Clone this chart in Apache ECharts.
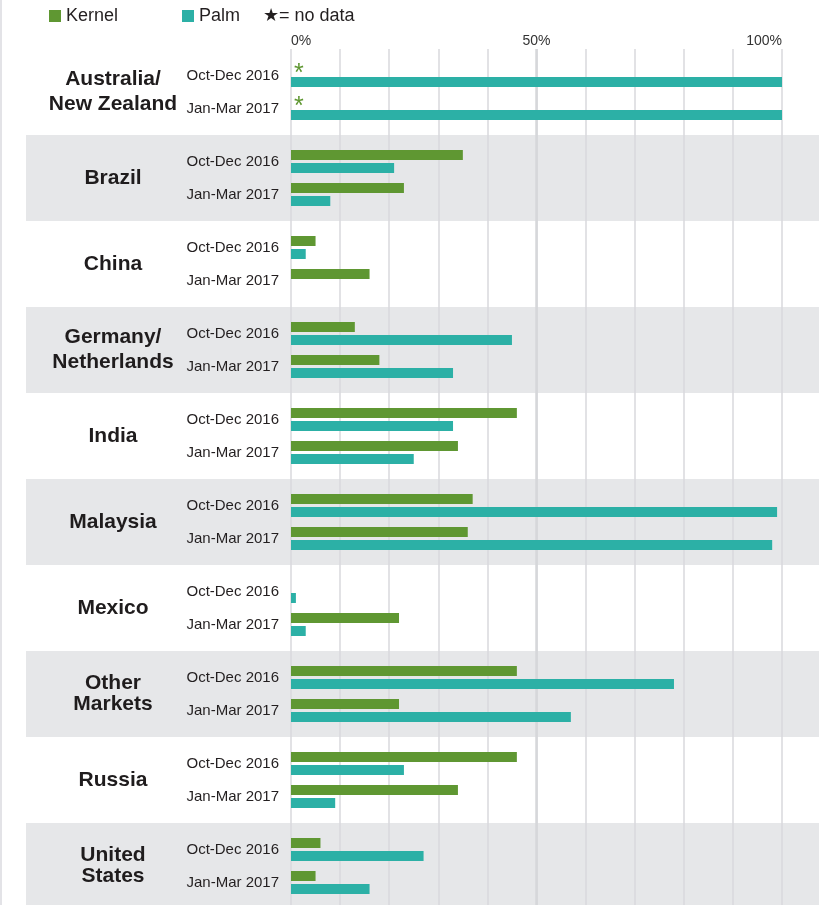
<!DOCTYPE html>
<html>
<head>
<meta charset="utf-8">
<title>Kernel / Palm</title>
<script src="https://cdn.jsdelivr.net/npm/echarts@6/dist/echarts.min.js"></script>
<style>
  html, body { margin: 0; padding: 0; background: #fff; }
  #wrap { position: relative; width: 819px; height: 905px; }
  #myChart { width: 819px; height: 905px; }
  #edge { position: absolute; left: 0; top: 0; width: 2px; height: 905px; background: #e3e3e7; pointer-events: none; }
</style>
</head>
<body>
<div id="wrap">
  <div id="myChart"></div>
  <div id="edge"></div>
</div>
<script>
// categories (top to bottom)
const countries = ['Australia/\nNew Zealand', 'Brazil', 'China', 'Germany/\nNetherlands', 'India',
  'Malaysia', 'Mexico', 'Other\nMarkets', 'Russia', 'United\nStates']
const periods = ['Oct-Dec 2016', 'Jan-Mar 2017']
const xTicks = [0, 50, 100]

// values in %, null = no data (shown as *)
const kernelOct = [null, 35, 5, 13, 46, 37, 0, 46, 46, 6]
const palmOct = [100, 21, 3, 45, 33, 99, 1, 78, 23, 27]
const kernelJan = [null, 23, 16, 18, 34, 36, 22, 22, 34, 5]
const palmJan = [100, 8, 0, 33, 25, 98, 3, 57, 9, 16]

const green = '#5f9732'
const teal = '#2cb0a6'
const font = 'Liberation Sans, Arial, sans-serif'

function kernelData(arr) {
  return arr.map(function(v) {
    if (v === null) {
      return {
        value: 0,
        label: {
          show: true,
          position: 'right',
          distance: 3,
          offset: [0, 5],
          formatter: '*',
          color: green,
          fontSize: 25,
          fontFamily: font
        }
      }
    }
    return v
  })
}

const legendText = { fontSize: 18, color: '#231f20', fontFamily: font }

const myChart = echarts.init(document.getElementById('myChart'))

const option = {
  animation: false,
  textStyle: { fontFamily: font },
  legend: [
    {
      data: ['Kernel'],
      left: 49,
      top: 7,
      padding: 0,
      icon: 'rect',
      itemWidth: 12,
      itemHeight: 12,
      selectedMode: false,
      textStyle: legendText
    },
    {
      data: ['Palm'],
      left: 182,
      top: 7,
      padding: 0,
      icon: 'rect',
      itemWidth: 12,
      itemHeight: 12,
      selectedMode: false,
      textStyle: legendText
    },
    {
      data: [{ name: '★= no data', icon: 'none' }],
      left: 258,
      top: 7,
      padding: 0,
      itemWidth: 0,
      itemHeight: 12,
      selectedMode: false,
      textStyle: legendText
    }
  ],
  grid: [
    // row bands
    { left: 26, right: 0, top: 49, bottom: -4, outerBoundsMode: 'none' },
    // bars
    { left: 291, right: 37, top: 49, bottom: -4, outerBoundsMode: 'none' }
  ],
  xAxis: [
    { gridIndex: 0, type: 'value', show: false, min: 0, max: 100 },
    {
      gridIndex: 1,
      type: 'value',
      position: 'top',
      min: 0,
      max: 100,
      interval: 10,
      axisLine: { show: false },
      axisTick: { show: false },
      splitLine: {
        show: true,
        lineStyle: { color: '#d9d9dc', width: 1.5 }
      },
      axisLabel: {
        margin: 1,
        fontSize: 14,
        color: '#333',
        alignMinLabel: 'left',
        alignMaxLabel: 'right',
        formatter: function(v) {
          return xTicks.indexOf(v) >= 0 ? v + '%' : ''
        }
      }
    }
  ],
  yAxis: [
    {
      gridIndex: 0,
      type: 'category',
      inverse: true,
      data: countries,
      axisLine: { show: false },
      axisTick: { show: false },
      axisLabel: { show: false },
      splitLine: { show: false },
      splitArea: {
        show: true,
        areaStyle: { color: ['#ffffff', '#e6e7e9'] }
      }
    },
    {
      gridIndex: 1,
      type: 'category',
      inverse: true,
      position: 'left',
      data: countries,
      axisLine: { show: false },
      axisTick: { show: false },
      axisLabel: {
        margin: 178,
        align: 'center',
        formatter: function(v) {
          const style = v.indexOf('/') >= 0 ? 'w' : 'n'
          return v.split('\n').map(function(s) {
            return '{' + style + '|' + s + '}'
          }).join('\n')
        },
        rich: {
          w: { fontSize: 21, fontWeight: 'bold', color: '#1f1c1d', lineHeight: 25, fontFamily: font },
          n: { fontSize: 21, fontWeight: 'bold', color: '#1f1c1d', lineHeight: 21, fontFamily: font }
        }
      }
    },
    {
      gridIndex: 1,
      type: 'category',
      inverse: true,
      position: 'left',
      data: countries,
      axisLine: { show: false },
      axisTick: { show: false },
      axisLabel: {
        margin: 12,
        align: 'right',
        fontSize: 15,
        lineHeight: 33,
        color: '#231f20',
        formatter: function() {
          return periods.join('\n')
        }
      }
    }
  ],
  series: [
    {
      name: 'Kernel',
      type: 'bar',
      xAxisIndex: 1,
      yAxisIndex: 1,
      barWidth: 10,
      barGap: '30%',
      itemStyle: { color: green },
      data: kernelData(kernelOct)
    },
    {
      name: 'Palm',
      type: 'bar',
      xAxisIndex: 1,
      yAxisIndex: 1,
      barWidth: 10,
      barGap: '30%',
      itemStyle: { color: teal },
      markLine: {
        silent: true,
        symbol: 'none',
        z: 1,
        label: { show: false },
        lineStyle: { color: '#d6d7da', width: 2.5, type: 'solid' },
        data: [{ xAxis: 50 }]
      },
      data: palmOct
    },
    {
      // spacer between the two periods, carries the "no data" legend entry
      name: '★= no data',
      type: 'bar',
      xAxisIndex: 1,
      yAxisIndex: 1,
      barWidth: 5.4,
      barGap: '30%',
      itemStyle: { color: 'rgba(0,0,0,0)' },
      data: countries.map(function() { return 0 })
    },
    {
      name: 'Kernel',
      type: 'bar',
      xAxisIndex: 1,
      yAxisIndex: 1,
      barWidth: 10,
      barGap: '30%',
      itemStyle: { color: green },
      data: kernelData(kernelJan)
    },
    {
      name: 'Palm',
      type: 'bar',
      xAxisIndex: 1,
      yAxisIndex: 1,
      barWidth: 10,
      barGap: '30%',
      itemStyle: { color: teal },
      data: palmJan
    }
  ]
}
myChart.setOption(option)
window.addEventListener('resize', function() {
  myChart.resize()
})
</script>
</body>
</html>
